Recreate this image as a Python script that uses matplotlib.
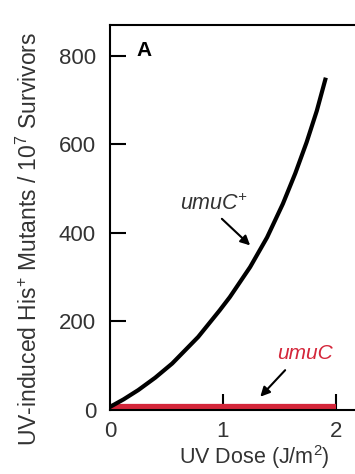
import matplotlib
matplotlib.use('Agg')
import matplotlib.pyplot as plt

plt.rcParams['font.family'] = ['Liberation Sans', 'DejaVu Sans']
plt.rcParams['mathtext.default'] = 'regular'

# umuC+ curve
dose_wt = [0, 0.12, 0.25, 0.4, 0.55, 0.78, 0.97, 1.06, 1.24, 1.39, 1.53, 1.64, 1.74, 1.83, 1.91]
mut_wt = [7, 24, 45, 73, 105, 165, 225, 255, 323, 390, 466, 535, 605, 676, 751]

# umuC mutant stays flat
dose_mut = [0, 2.0]
mut_mut = [7, 7]

xticks = [0, 1, 2]
yticks = [0, 200, 400, 600, 800]

fig = plt.figure(figsize=(3.55, 4.74), dpi=100)
ax = fig.add_axes([110 / 355, 64 / 474, 2.3 * 113 / 355, 385 / 474])

ax.plot(dose_mut, mut_mut, color='#d4263a', lw=4.5, solid_capstyle='butt', zorder=2)
ax.plot(dose_wt, mut_wt, color='black', lw=3, solid_capstyle='butt', zorder=3)

ax.set_xlim(0, 2.3)
ax.set_ylim(0, 870)
ax.set_xticks(xticks)
ax.set_yticks(yticks)
ax.tick_params(direction='in', length=11.5, width=1.5, labelsize=16,
               labelcolor='#333333')
ax.tick_params(axis='y', pad=10)
ax.tick_params(axis='x', pad=8)
ax.xaxis.get_major_ticks()[0].tick1line.set_visible(False)
ax.yaxis.get_major_ticks()[0].tick1line.set_visible(False)
ax.spines['right'].set_visible(False)
for s in ['left', 'bottom', 'top']:
    ax.spines[s].set_linewidth(1.5)

ax.set_xlabel('UV Dose (J/m$^{2}$)', fontsize=15.5, color='#333333')
ax.xaxis.set_label_coords(0.555, -0.086)
ax.set_ylabel('UV-induced His$^{+}$ Mutants / 10$^{7}$ Survivors', fontsize=16.5,
              color='#333333')
ax.yaxis.set_label_coords(-0.262, 0.445)

ax.text(0.3, 812, 'A', fontsize=15, fontweight='bold', ha='center', va='center')

ax.annotate('', xy=(1.24, 372), xytext=(0.99, 432),
            arrowprops=dict(arrowstyle='-|>', color='black', lw=1.5,
                            mutation_scale=14, shrinkA=0, shrinkB=0))
ax.text(0.92, 466, 'umuC$^{+}$', fontsize=15.5, style='italic', color='#333333',
        ha='center', va='center')

ax.annotate('', xy=(1.33, 30), xytext=(1.55, 90),
            arrowprops=dict(arrowstyle='-|>', color='black', lw=1.5,
                            mutation_scale=14, shrinkA=0, shrinkB=0))
ax.text(1.73, 128, 'umuC', fontsize=15, style='italic', color='#d4263a',
        ha='center', va='center')

plt.savefig('out.png', dpi=100)
